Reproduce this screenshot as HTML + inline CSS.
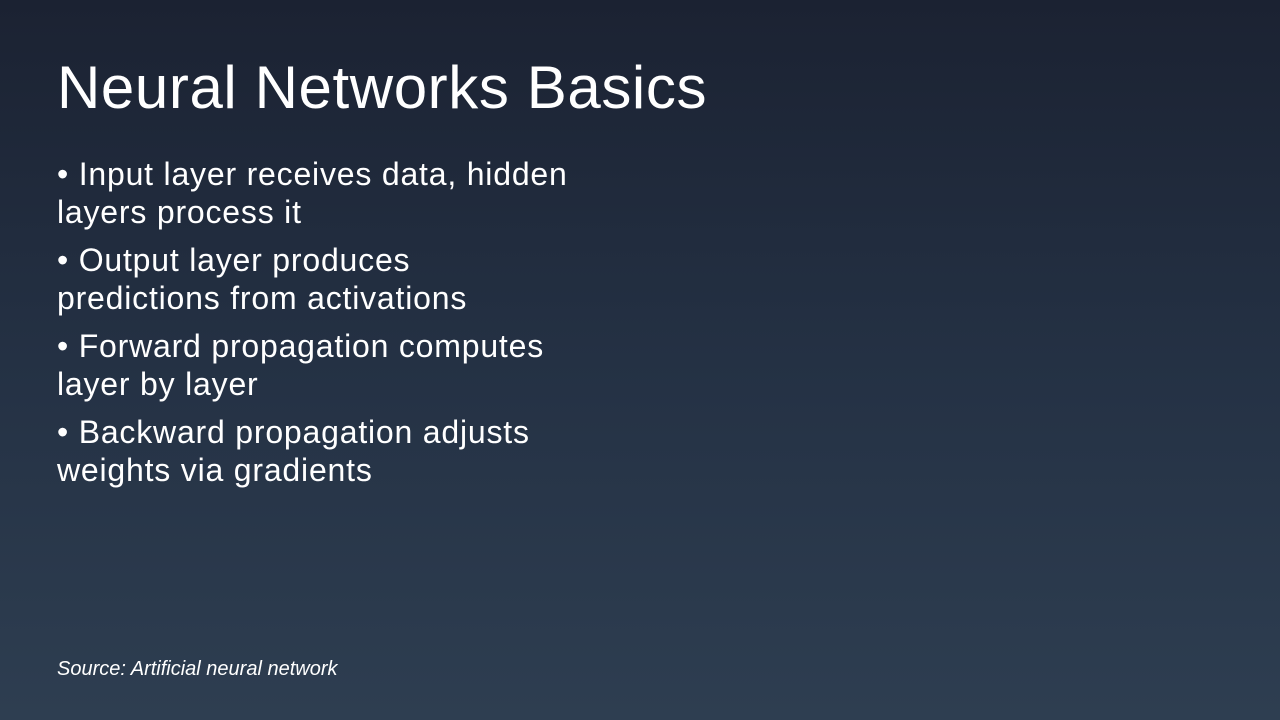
<!DOCTYPE html>
<html><head><meta charset="utf-8"><style>
html,body{margin:0;padding:0;}
body{width:1280px;height:720px;overflow:hidden;background:linear-gradient(180deg,#1b2232 0%,#243144 50%,#2e3e51 100%);font-family:"Liberation Sans",sans-serif;color:#fff;position:relative;}
h1{position:absolute;left:57px;top:52px;margin:0;font-weight:400;font-size:60px;line-height:72px;letter-spacing:0.6px;white-space:nowrap;}
ul{position:absolute;left:57px;top:155px;margin:0;padding:0;list-style:none;width:700px;}
li{font-size:32px;line-height:38px;margin-bottom:10px;letter-spacing:0.8px;white-space:nowrap;}
.src{position:absolute;left:57px;top:658px;font-size:20px;font-style:italic;letter-spacing:0px;}
</style></head><body>
<h1>Neural Networks Basics</h1>
<ul>
<li>• Input layer receives data, hidden<br>layers process it</li>
<li>• Output layer produces<br>predictions from activations</li>
<li>• Forward propagation computes<br>layer by layer</li>
<li>• Backward propagation adjusts<br>weights via gradients</li>
</ul>
<div class="src">Source: Artificial neural network</div>
</body></html>
